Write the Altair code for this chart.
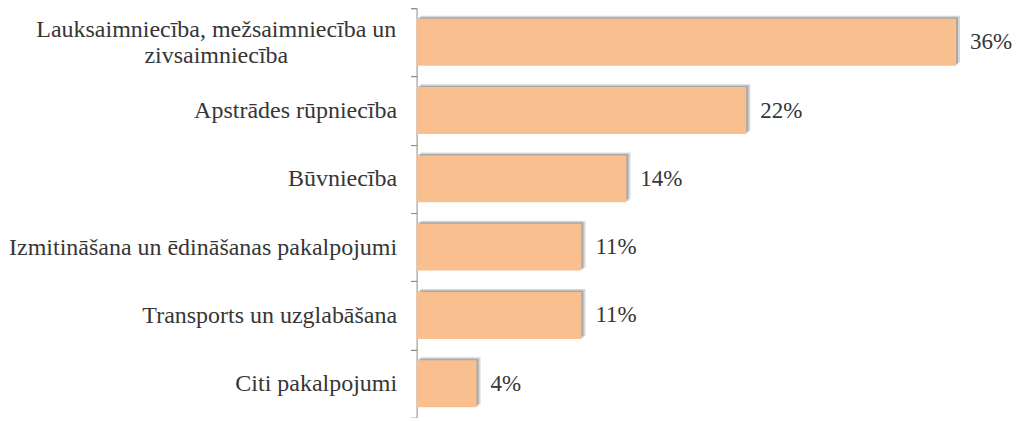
import altair as alt
import pandas as pd

categories = [
    "Lauksaimniecība, mežsaimniecība un|zivsaimniecība",
    "Apstrādes rūpniecība",
    "Būvniecība",
    "Izmitināšana un ēdināšanas pakalpojumi",
    "Transports un uzglabāšana",
    "Citi pakalpojumi",
]
values = [36, 22, 14, 11, 11, 4]
value_labels = ["36%", "22%", "14%", "11%", "11%", "4%"]

df = pd.DataFrame({"cat": categories, "val": values, "lab": value_labels})

FONT = "Liberation Serif"
BAR = 47
LABEL_SIZE = 24
TEXT_COLOR = "#363636"
AXIS_COLOR = "#8c8c8c"

y_scale = alt.Scale(paddingInner=0, paddingOuter=0)

common_axis = dict(
    labelFont=FONT,
    labelFontSize=LABEL_SIZE,
    labelColor=TEXT_COLOR,
    labelLineHeight=26,
    labelLimit=600,
    tickColor=AXIS_COLOR,
    tickSize=6,
    tickBand="extent",
    grid=False,
    orient="left",
    title=None,
)

# main axis: single-line labels (right aligned), axis line and ticks
axis_main = alt.Axis(
    labelExpr="indexof(datum.label, '|') >= 0 ? '' : datum.label",
    labelPadding=14,
    labelAlign="right",
    domainColor=AXIS_COLOR,
    **common_axis,
)
# second axis: the wrapped two-line label, centred
axis_wrapped = alt.Axis(
    labelExpr="indexof(datum.label, '|') >= 0 ? split(datum.label, '|') : ''",
    labelPadding=195,
    labelAlign="center",
    labelOffset=-13,
    domain=False,
    **common_axis,
)

def y_enc(axis):
    return alt.Y("cat:N", sort=categories, title=None, scale=y_scale, axis=axis)

x_enc = alt.X("val:Q", scale=alt.Scale(domain=[0, 40], nice=False), axis=None)

base = alt.Chart(df)

shadow1 = base.mark_bar(color="#7a7a7a", opacity=0.3, size=BAR, xOffset=4, yOffset=-3).encode(
    x=x_enc, y=y_enc(axis_main)
)
shadow2 = base.mark_bar(color="#7a7a7a", opacity=0.5, size=BAR, xOffset=2, yOffset=-1.5).encode(
    x=x_enc, y=y_enc(None)
)
bars = base.mark_bar(color="#F9BF8F", size=BAR).encode(x=x_enc, y=y_enc(axis_wrapped))
text = base.mark_text(
    align="left", baseline="middle", dx=14, font=FONT, fontSize=23, color=TEXT_COLOR
).encode(x=x_enc, y=y_enc(None), text="lab:N")

chart = (
    alt.layer(shadow1, shadow2, bars, text)
    .resolve_axis(y="independent")
    .properties(
        width=600,
        height=410,
        autosize=alt.AutoSizeParams(type="none"),
        padding={"left": 409, "top": 0, "right": 0, "bottom": 0},
    )
    .configure_view(stroke=None)
)

chart.save("out.html", embed_options={"renderer": "svg", "actions": False})
